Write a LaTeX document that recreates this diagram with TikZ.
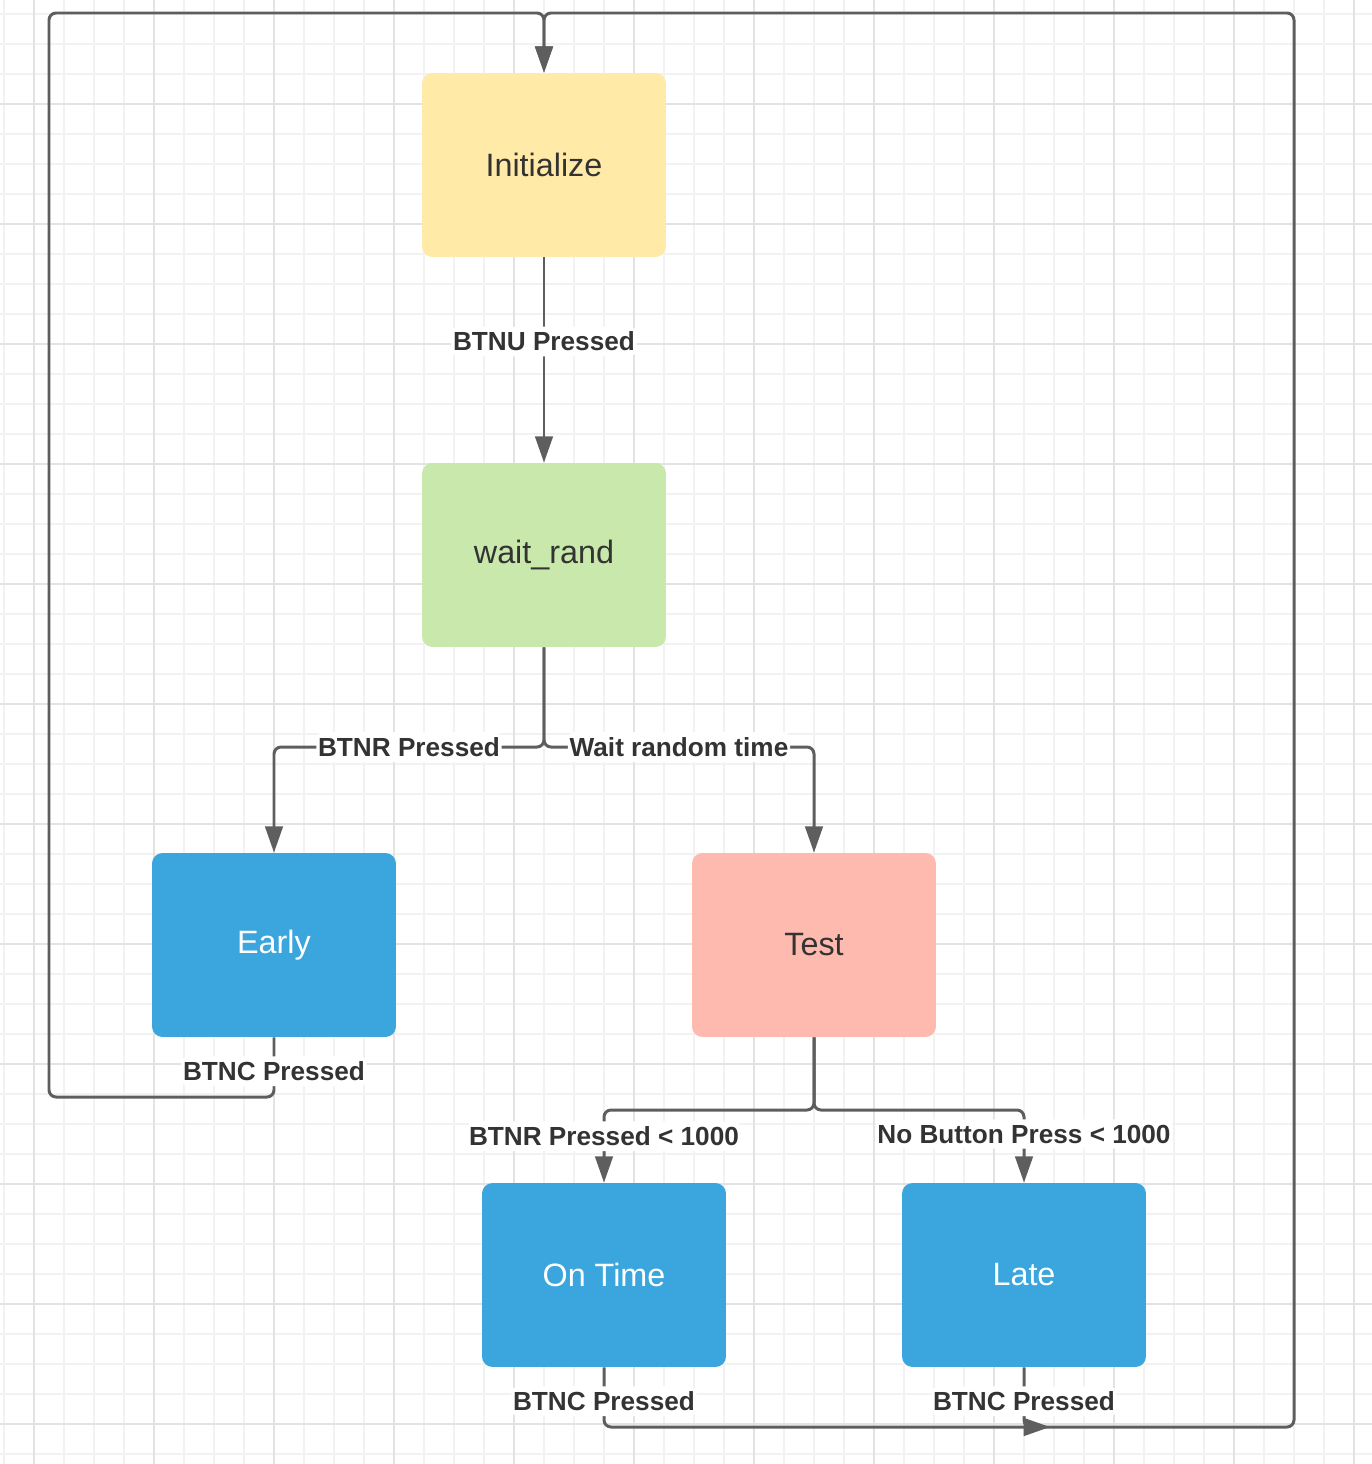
\documentclass[tikz,border=0pt]{standalone}
\usepackage{fontspec}
\setmainfont{Liberation Sans}
\usetikzlibrary{arrows.meta}

\definecolor{linha}{HTML}{5E5E5E}
\definecolor{texto}{HTML}{333333}
\definecolor{amarelo}{HTML}{FFEAA7}
\definecolor{verde}{HTML}{C8E8AC}
\definecolor{azul}{HTML}{3BA6DD}
\definecolor{salmao}{HTML}{FFBAAF}

\begin{document}
\begin{tikzpicture}[
                x=0.02cm, y=-0.02cm,
                bloco/.style={shape=rectangle, rounded corners=6pt, minimum width=4.88cm, minimum height=3.68cm,
                    text=texto, font=\fontsize{18.4}{22}\selectfont},
                azulado/.style={bloco, fill=azul, text=white},
                seta/.style={draw=linha, line width=1.7pt, rounded corners=4pt, -{Triangle[length=15pt, width=10pt]}},
                rotulo/.style={fill=white, text=texto, inner xsep=1pt, inner ysep=3pt,
                    font=\fontsize{14.9}{17}\selectfont\bfseries},
                fino/.style={draw=black!5, line width=0.6pt},
                grosso/.style={draw=black!11, line width=0.6pt},
            ]
            \useasboundingbox (0,0) rectangle (1372,1464);
            \fill[white] (0,0) rectangle (1372,1464);
            % grid
            \foreach \x in {4,34,...,1372} \draw[fino] (\x,0) -- (\x,1464);
            \foreach \y in {14,44,...,1464} \draw[fino] (0,\y) -- (1372,\y);
            \foreach \x in {34,154,...,1372} \draw[grosso] (\x,0) -- (\x,1464);
            \foreach \y in {104,224,...,1464} \draw[grosso] (0,\y) -- (1372,\y);

            \node[bloco, fill=amarelo] (init) at (544, 165) {Initialize};
            \node[bloco, fill=verde] (wait) at (544, 555) {wait\_rand};
            \node[azulado] (early) at (274, 945) {Early};
            \node[bloco, fill=salmao] (test) at (814, 945) {Test};
            \node[azulado] (ontime) at (604, 1275) {On Time};
            \node[azulado] (late) at (1024, 1275) {Late};
            \coordinate (junta) at (1050, 1427);

            \draw[seta] (init) -- node[rotulo, pos=0.41] {BTNU Pressed} (wait);
            \draw[seta] (wait.south) -- (544,747) -- node[rotulo] {BTNR Pressed} (274,747) -- (early.north);
            \draw[seta] (wait.south) -- (544,747) -- node[rotulo] {Wait random time} (814,747) -- (test.north);
            \draw[seta] (test.south) -- (814,1110) -- (604,1110) -- node[rotulo, pos=0.36] {BTNR Pressed < 1000} (ontime.north);
            \draw[seta] (test.south) -- (814,1110) -- (1024,1110) -- node[rotulo, pos=0.33] {No Button Press < 1000} (late.north);
            \draw[seta] (early.south) -- node[rotulo, pos=0.57] {BTNC Pressed} (274,1097) -- (49,1097) -- (49,13) -- (544,13) -- (init.north);
            \draw[seta] (late.south) -- node[rotulo, pos=0.57] {BTNC Pressed} (1024,1427) -- (1294,1427) -- (1294,13) -- (544,13) -- (init.north);
            \draw[seta] (ontime.south) -- node[rotulo, pos=0.57] {BTNC Pressed} (604,1427) -- (junta);
        \end{tikzpicture}
\end{document}
